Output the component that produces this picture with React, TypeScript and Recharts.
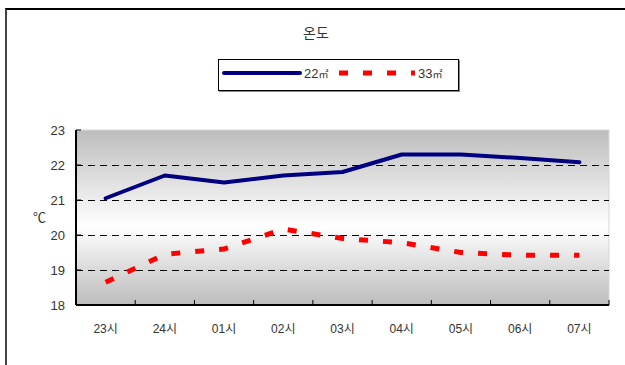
import { LineChart, Line, XAxis, YAxis, ReferenceArea, ReferenceLine, Legend } from 'recharts';

const hours = ['23시', '24시', '01시', '02시', '03시', '04시', '05시', '06시', '07시'];
const temp22 = [21.05, 21.7, 21.5, 21.7, 21.8, 22.3, 22.3, 22.2, 22.08];
const temp33 = [18.65, 19.45, 19.6, 20.17, 19.9, 19.78, 19.5, 19.42, 19.42];
const yTicks = [18, 19, 20, 21, 22, 23];
const gridValues = [19, 20, 21, 22];

const FONT = '"Liberation Sans", "Noto Sans CJK KR", sans-serif';
const TEXT = '#333';

// each category sits in the middle of its band; integer positions are band edges
const data = hours.map((h, i) => ({ pos: i + 0.5, hour: h, a22: temp22[i], a33: temp33[i] }));
const xTicks: number[] = [];
for (let i = 0; i <= hours.length * 2; i++) xTicks.push(i / 2);

const XTick = ({ x, y, payload }: any) => {
  const v = payload.value;
  if (Number.isInteger(v)) {
    return <line x1={x} y1={y} x2={x} y2={y - 5} stroke="#000" strokeWidth={1} />;
  }
  return (
    <text x={x} y={y + 28} textAnchor="middle" fontSize={12} fill={TEXT} fontFamily={FONT}>
      {hours[Math.floor(v)]}
    </text>
  );
};

const YTick = ({ x, y, payload }: any) => (
  <g>
    <line x1={x + 11} y1={y} x2={x + 16} y2={y} stroke="#000" strokeWidth={1} />
    <text x={x} y={y + 5} textAnchor="end" fontSize={13} fill={TEXT} fontFamily={FONT}>
      {payload.value}
    </text>
  </g>
);

const LegendBox = () => (
  <div
    style={{
      width: 241,
      height: 32,
      boxSizing: 'border-box',
      border: '1px solid #000',
      boxShadow: '1px 1px 0 #888',
      background: '#fff',
    }}
  >
    <svg width={239} height={30}>
      <line x1={5} y1={13} x2={81} y2={13} stroke="#000080" strokeWidth={4} strokeLinecap="round" />
      <text x={85} y={18} fontSize={13} fill={TEXT} fontFamily={FONT}>
        22<tspan fontSize={10}>㎡</tspan>
      </text>
      <line x1={120} y1={13} x2={196} y2={13} stroke="#ff0000" strokeWidth={5} strokeDasharray="9 15" />
      <text x={199} y={18} fontSize={13} fill={TEXT} fontFamily={FONT}>
        33<tspan fontSize={10}>㎡</tspan>
      </text>
    </svg>
  </div>
);

export default function App() {
  return (
    <div style={{ position: 'absolute', left: 0, top: 0, width: 625, height: 365, overflow: 'hidden', background: '#fff' }}>
      <div
        style={{
          position: 'absolute',
          left: 5,
          top: 8,
          width: 700,
          height: 400,
          borderTop: '2px solid #000',
          borderLeft: '2px solid #444',
        }}
      />
      <div
        style={{
          position: 'absolute',
          left: 0,
          top: 22,
          width: 632,
          textAlign: 'center',
          fontSize: 14,
          color: TEXT,
          fontFamily: FONT,
        }}
      >
        온도
      </div>
      <div style={{ position: 'absolute', left: 0, top: 0 }}>
        <LineChart width={625} height={365} data={data} margin={{ top: 130, right: 16, bottom: 30, left: 26 }}>
          <defs>
            <linearGradient id="plotBg" x1="0" y1="0" x2="0" y2="1">
              <stop offset="0%" stopColor="#bdbdbd" />
              <stop offset="55%" stopColor="#ffffff" />
              <stop offset="100%" stopColor="#bcbcbc" />
            </linearGradient>
          </defs>
          <XAxis
            dataKey="pos"
            type="number"
            domain={[0, hours.length]}
            ticks={xTicks}
            interval={0}
            tick={<XTick />}
            tickLine={false}
            tickSize={0}
            tickMargin={0}
            height={30}
            axisLine={{ stroke: '#000', strokeWidth: 2 }}
          />
          <YAxis
            domain={[18, 23]}
            ticks={yTicks}
            interval={0}
            width={50}
            tick={<YTick />}
            tickLine={false}
            tickSize={0}
            tickMargin={11}
            axisLine={{ stroke: '#000', strokeWidth: 2 }}
            label={{ value: '℃', position: 'insideLeft', offset: 7, fontSize: 13, fill: TEXT, fontFamily: FONT }}
          />
          <ReferenceArea y1={18} y2={23} fill="url(#plotBg)" fillOpacity={1} stroke="#d6d6d6" strokeWidth={1} />
          {gridValues.map((v) => (
            <ReferenceLine
              key={v}
              y={v}
              stroke="#000"
              strokeWidth={1}
              strokeDasharray="7 5"
              shapeRendering="crispEdges"
            />
          ))}
          <Legend
            layout="horizontal"
            verticalAlign="middle"
            align="center"
            content={<LegendBox />}
            wrapperStyle={{ left: 218, top: 59, width: 241, height: 32 }}
          />
          <Line
            dataKey="a33"
            type="linear"
            stroke="#ff0000"
            strokeWidth={5}
            strokeDasharray="9 15"
            dot={false}
            activeDot={false}
            isAnimationActive={false}
          />
          <Line
            dataKey="a22"
            type="linear"
            stroke="#000080"
            strokeWidth={4}
            strokeLinecap="round"
            strokeLinejoin="round"
            dot={false}
            activeDot={false}
            isAnimationActive={false}
          />
        </LineChart>
      </div>
    </div>
  );
}
